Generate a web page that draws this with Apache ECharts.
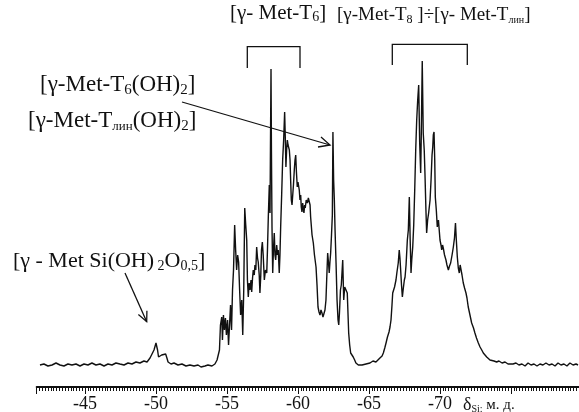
<!DOCTYPE html>
<html>
<head>
<meta charset="utf-8">
<script src="https://cdn.jsdelivr.net/npm/echarts@6/dist/echarts.min.js"></script>
<style>
html,body{margin:0;padding:0;background:#fff;}
#c{width:579px;height:412px;}
</style>
</head>
<body>
<div id="c"></div>
<script>
// Chemical shift (ppm) and intensity (arbitrary units)
const ppm = [
-41.83,-42.11,-42.39,-42.68,-42.96,-43.24,-43.52,-43.80,-44.08,-44.37,-44.65,-44.93,-45.21,-45.49,-45.77,-46.06,-46.34,-46.62,-46.90,-47.18,
-47.46,-47.75,-48.03,-48.31,-48.59,-48.87,-49.15,-49.37,-49.58,-49.72,-49.86,-50.00,-50.11,-50.18,-50.28,-50.40,-50.49,-50.68,-50.77,-50.85,
-51.06,-51.27,-51.55,-51.83,-52.11,-52.39,-52.68,-52.96,-53.17,-53.31,-53.45,-53.66,-53.94,-54.15,-54.30,-54.37,-54.47,-54.54,-54.63,-54.68,
-54.75,-54.82,-54.89,-54.96,-55.04,-55.11,-55.18,-55.25,-55.32,-55.39,-55.46,-55.54,-55.61,-55.68,-55.75,-55.82,-55.89,-55.96,-56.04,-56.11,
-56.18,-56.25,-56.32,-56.39,-56.44,-56.50,-56.56,-56.62,-56.69,-56.74,-56.80,-56.85,-56.92,-56.97,-57.03,-57.09,-57.15,-57.20,-57.27,-57.32,
-57.38,-57.43,-57.49,-57.55,-57.63,-57.71,-57.80,-57.85,-57.91,-57.98,-58.03,-58.06,-58.10,-58.13,-58.17,-58.22,-58.27,-58.33,-58.38,-58.43,
-58.50,-58.56,-58.61,-58.68,-58.73,-58.78,-58.85,-58.92,-58.99,-59.06,-59.11,-59.15,-59.20,-59.25,-59.30,-59.35,-59.39,-59.44,-59.49,-59.53,
-59.58,-59.63,-59.68,-59.74,-59.79,-59.84,-59.89,-59.95,-60.00,-60.05,-60.09,-60.14,-60.19,-60.23,-60.28,-60.33,-60.37,-60.42,-60.47,-60.51,
-60.58,-60.66,-60.73,-60.80,-60.85,-60.89,-60.99,-61.08,-61.16,-61.27,-61.34,-61.41,-61.48,-61.55,-61.62,-61.69,-61.76,-61.83,-61.90,-61.97,
-62.02,-62.09,-62.15,-62.20,-62.25,-62.30,-62.36,-62.42,-62.46,-62.51,-62.56,-62.61,-62.68,-62.75,-62.82,-62.87,-62.92,-62.99,-63.05,-63.15,
-63.22,-63.29,-63.38,-63.47,-63.57,-63.64,-63.71,-63.80,-63.89,-63.99,-64.08,-64.25,-64.37,-64.51,-64.65,-64.79,-64.93,-65.07,-65.28,-65.49,
-65.63,-65.77,-65.92,-66.01,-66.11,-66.20,-66.30,-66.41,-66.48,-66.55,-66.62,-66.67,-66.73,-66.80,-66.90,-66.97,-67.06,-67.13,-67.18,-67.23,
-67.29,-67.35,-67.42,-67.49,-67.54,-67.61,-67.70,-67.77,-67.84,-67.90,-67.96,-68.01,-68.08,-68.15,-68.22,-68.29,-68.36,-68.43,-68.50,-68.57,
-68.64,-68.68,-68.75,-68.82,-68.89,-68.94,-69.01,-69.06,-69.13,-69.20,-69.30,-69.37,-69.44,-69.49,-69.53,-69.58,-69.63,-69.67,-69.74,-69.81,
-69.89,-70.00,-70.07,-70.12,-70.18,-70.23,-70.32,-70.42,-70.49,-70.59,-70.67,-70.75,-70.85,-70.94,-71.02,-71.09,-71.15,-71.22,-71.29,-71.36,
-71.42,-71.48,-71.55,-71.64,-71.73,-71.83,-71.90,-71.99,-72.11,-72.23,-72.36,-72.46,-72.57,-72.70,-72.82,-72.94,-73.05,-73.17,-73.29,-73.40,
-73.52,-73.66,-73.80,-73.99,-74.15,-74.37,-74.58,-74.79,-74.93,-75.14,-75.35,-75.56,-75.77,-75.99,-76.20,-76.41,-76.62,-76.83,-77.04,-77.25,
-77.46,-77.68,-77.89,-78.10,-78.31,-78.52,-78.73,-78.94,-79.15,-79.37,-79.58,-79.72
];
const intensity = [
0,1,-1,0,2,0,-1,1,0,1,-1,1,0,2,0,1,-1,1,0,2,
1,0,2,1,3,2,4,3,7,9,15,22,15,8,9,10,8,11,7,3,
1,2,0,1,-1,0,-1,0,-2,-3,-1,0,-1,1,5,3,15,40,48,25,
50,35,47,30,45,20,40,60,35,75,95,140,115,95,110,103,75,50,65,30,
75,157,140,125,85,68,82,75,85,73,87,95,90,100,95,118,107,103,90,72,
90,115,123,110,85,95,92,115,148,180,152,215,296,215,138,92,115,132,110,105,
120,110,115,92,110,138,170,205,225,253,225,198,215,225,220,222,215,205,182,165,
160,162,180,195,205,210,193,178,183,185,175,165,170,158,153,162,157,152,160,157,
165,162,167,168,160,148,130,122,110,98,80,58,53,50,55,52,48,48,55,65,
85,112,102,92,103,112,130,150,233,185,165,135,102,65,45,40,52,75,80,105,
65,78,77,72,32,20,12,10,8,5,2,0,1,0,2,1,2,2,4,3,
5,7,9,12,17,22,28,33,38,45,60,72,73,78,85,93,102,115,107,95,
80,68,77,85,88,100,125,135,168,125,92,105,118,140,175,215,245,265,280,222,
192,228,304,232,215,192,155,132,145,152,165,185,210,218,230,233,205,168,155,138,
145,125,120,115,120,117,110,105,100,95,99,102,110,118,127,142,125,108,97,92,
100,98,90,82,77,72,67,58,50,42,37,32,27,22,18,15,12,10,8,7,
5,6,4,3,4,2,3,1,2,1,2,0,1,-1,2,0,1,-1,1,0,
2,0,1,-1,2,0,1,-1,2,0,1,0
];
const xTickLabels = [-45, -50, -55, -60, -65, -70];

const FONT = "'Liberation Serif','Times New Roman',serif";
const INK = '#111';

const chart = echarts.init(document.getElementById('c'), null, {renderer: 'canvas'});
const data = ppm.map((p, i) => [p, intensity[i]]);

function rich(sizes) {
  const r = {};
  for (const k in sizes) {
    const s = sizes[k];
    r[k] = {fontFamily: FONT, fontSize: s.f, fill: INK, lineHeight: s.lh, verticalAlign: s.va || 'middle'};
  }
  return r;
}
function sz(f) {
  return {a: {f: f, lh: f + 2}, s: {f: Math.round(f * 0.65), lh: Math.round(f * 0.65), va: 'bottom'},
          t: {f: Math.round(f * 0.55), lh: Math.round(f * 0.55), va: 'bottom'}};
}

function txt(x, y, text, sizes) {
  return {type: 'text', x: x, y: y, silent: true,
    style: {text: text, rich: rich(sizes), align: 'left', verticalAlign: 'middle', fill: INK}};
}
function poly(points) {
  return {type: 'polyline', silent: true, shape: {points: points},
    style: {stroke: INK, lineWidth: 1.3, fill: null}};
}

chart.setOption({
  animation: false,
  grid: {left: 36.7, right: -3, top: 0, bottom: 25, outerBoundsMode: 'none'},
  xAxis: [{
    type: 'value', min: -80, max: -41.6, interval: 5, inverse: true, position: 'bottom',
    axisLine: {show: true, onZero: false, lineStyle: {color: INK, width: 2}},
    axisTick: {show: true, length: 7, lineStyle: {color: INK, width: 1}},
    splitLine: {show: false},
    axisLabel: {
      fontFamily: FONT, fontSize: 18, color: INK, margin: 8,
      formatter: v => (xTickLabels.indexOf(v) >= 0 ? String(v) : '')
    }
  }, {
    type: 'value', min: -80, max: -41.6, interval: 0.2, inverse: true, position: 'bottom',
    axisLine: {show: false, onZero: false},
    axisTick: {show: true, length: 4, lineStyle: {color: INK, width: 1}},
    axisLabel: {show: false}, splitLine: {show: false}
  }],
  yAxis: {type: 'value', min: -22, max: 365, show: false},
  series: [{
    type: 'line', xAxisIndex: 0, data: data, showSymbol: false, symbol: 'none',
    lineStyle: {color: INK, width: 1.4}, silent: true
  }],
  graphic: [
    txt(230, 13, '{a|[γ- Met-T}{s|6}{a|]}', sz(21)),
    txt(337, 15, '{a|[γ-Met-T}{s|8}{a| ]÷[γ- Met-T}{t|лин}{a|]}', sz(19)),
    txt(40, 85, '{a|[γ-Met-T}{s|6}{a|(OH)}{s|2}{a|]}', sz(23)),
    txt(28, 121, '{a|[γ-Met-T}{t|лин}{a|(OH)}{s|2}{a|]}', sz(23)),
    txt(13, 261, '{a|[γ - Met Si(OH)}{s| 2}{a|O}{s|0,5}{a|]}', sz(22)),
    txt(463, 405, '{d|δ}{s|Si;}{m| м. д.}', {d: {f: 18, lh: 18}, s: {f: 10, lh: 10, va: 'bottom'}, m: {f: 15, lh: 16}}),
    poly([[247.3, 68], [247.3, 46.7], [300, 46.7], [300, 68]]),
    poly([[392.3, 65], [392.3, 44.3], [467.3, 44.3], [467.3, 65]]),
    poly([[182, 102], [330, 145]]),
    poly([[321, 137], [330, 145], [318, 147]]),
    poly([[125, 273], [146.7, 321.7]]),
    poly([[146.9, 310.7], [146.7, 321.7], [138.4, 314.5]])
  ]
});
</script>
</body>
</html>
